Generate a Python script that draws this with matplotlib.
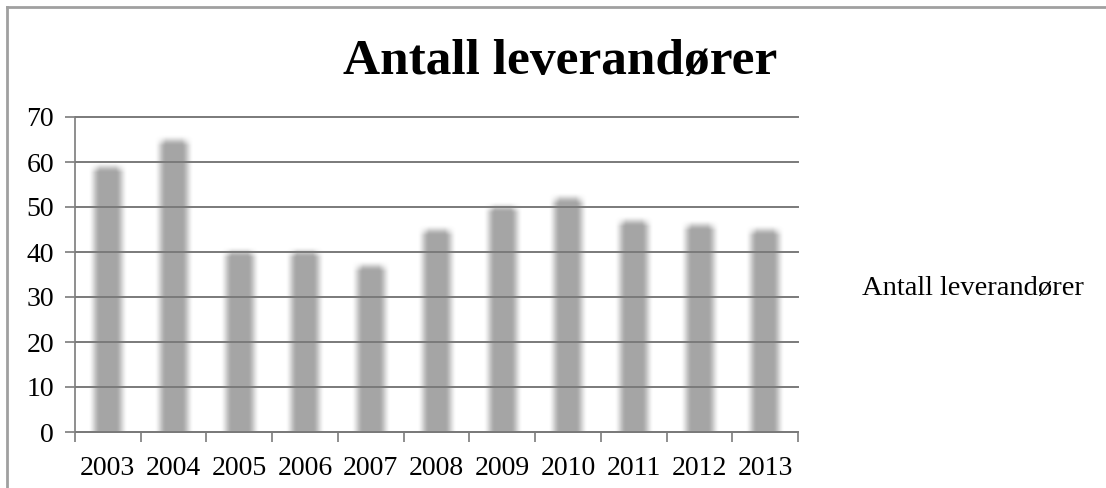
import numpy as np
import matplotlib
matplotlib.use("Agg")
import matplotlib.pyplot as plt
from matplotlib.lines import Line2D

years = ["2003", "2004", "2005", "2006", "2007", "2008",
         "2009", "2010", "2011", "2012", "2013"]
leverandorer = [59, 65, 40, 40, 37, 45, 50, 52, 47, 46, 45]
yticks = [0, 10, 20, 30, 40, 50, 60, 70]
title = "Antall leverandører"

plt.rcParams["font.family"] = ["Liberation Serif", "DejaVu Serif"]

fig = plt.figure(figsize=(11.06, 4.88), dpi=100)
ax = fig.add_axes([75 / 1106, 1 - 432 / 488, 723 / 1106, 315 / 488])

x = np.arange(len(years))
bar_w = 0.42
pad_x = 0.09
pad_y = 1.2


def soft_bar(ax, cx, h):
    # grey column with soft edges, built as a small rgba image
    nx, ny = 60, 200
    xs = np.linspace(-bar_w / 2 - pad_x, bar_w / 2 + pad_x, nx)
    ys = np.linspace(0, h + pad_y, ny)
    ax_ = np.clip((bar_w / 2 + pad_x - np.abs(xs)) / (2 * pad_x), 0, 1)
    ay_ = np.clip((h + pad_y - ys) / (2 * pad_y), 0, 1)
    a = np.outer(ay_, ax_)
    a = a * a * (3 - 2 * a)
    img = np.zeros((ny, nx, 4))
    img[..., :3] = 0.65
    img[..., 3] = a
    ax.imshow(img, extent=(cx + xs[0], cx + xs[-1], 0, h + pad_y),
              origin="lower", aspect="auto", interpolation="bilinear", zorder=1)


for cx, h in zip(x, leverandorer):
    soft_bar(ax, cx, h)

ax.set_xlim(-0.5, len(years) - 0.5)
ax.set_ylim(0, 70)
ax.set_yticks(yticks)
ax.set_xticks(x)
ax.set_xticklabels(years)
ax.set_xticks(np.arange(len(years) + 1) - 0.5, minor=True)
ax.tick_params(axis="x", which="major", length=0, pad=17, labelsize=20)
ax.tick_params(axis="x", which="minor", length=7, color="#868686", width=1.3)
ax.tick_params(axis="y", length=7, color="#868686", width=1.3, pad=8, labelsize=20)

ax.yaxis.grid(True, color="#7a7a7a", linewidth=1.4, zorder=3)
for gl in ax.get_ygridlines():
    gl.set_clip_on(False)
ax.set_axisbelow(False)
for s in ["top", "right"]:
    ax.spines[s].set_visible(False)
for s in ["left", "bottom"]:
    ax.spines[s].set_color("#868686")
    ax.spines[s].set_linewidth(1.3)

fig.text(560 / 1106, 1 - 62 / 488, title, ha="center", va="center",
         fontsize=37, fontweight="bold")
fig.text(862 / 1106, 1 - 288 / 488, title, ha="left", va="center", fontsize=20.5)

# outer frame: left and top edges
fig.add_artist(Line2D([7 / 1106, 7 / 1106], [0, 1 - 7 / 488],
                      transform=fig.transFigure, color="#a0a0a0", linewidth=2))
fig.add_artist(Line2D([7 / 1106, 1], [1 - 7 / 488, 1 - 7 / 488],
                      transform=fig.transFigure, color="#a0a0a0", linewidth=2))

fig.savefig("out.png", dpi=100)
